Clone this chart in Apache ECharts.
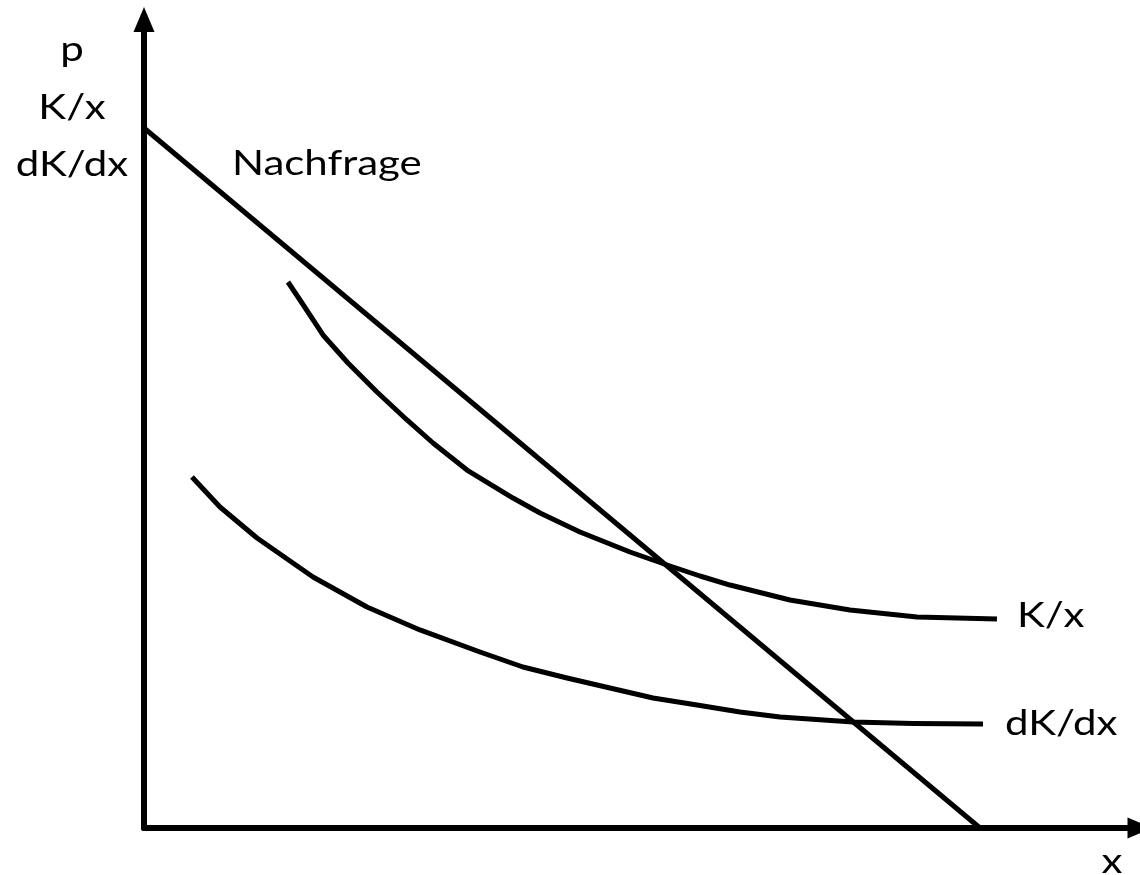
<!DOCTYPE html>
<html>
<head>
<meta charset="utf-8">
<script src="https://cdn.jsdelivr.net/npm/echarts@6/dist/echarts.min.js"></script>
<style>
  html, body { margin: 0; padding: 0; background: #fff; }
  #chart { width: 1140px; height: 875px; }
</style>
</head>
<body>
<div id="chart"></div>
<script>
// Schematic values (quantity x, price/cost units)
const demandX = [0, 100];
const demandY = [100, 0];

const avgCostX = [17.22, 18.90, 21.41, 24.40, 27.87, 31.46, 34.57, 38.64, 44.14, 47.37, 52.15, 58.13, 62.92, 66.51, 70.10, 77.27, 84.45, 92.46, 102.03];
const avgCostY = [78.0, 75.0, 70.43, 66.43, 62.29, 58.29, 55.0, 51.14, 47.14, 45.0, 42.29, 39.43, 37.43, 36.0, 34.71, 32.57, 31.14, 30.14, 29.86];

const margCostX = [5.74, 9.09, 13.52, 20.22, 26.67, 33.01, 40.19, 45.33, 50.60, 55.74, 60.89, 66.15, 71.29, 76.08, 84.81, 91.99, 100.36];
const margCostY = [50.14, 45.86, 41.43, 35.86, 31.57, 28.29, 25.14, 23.0, 21.43, 20.0, 18.57, 17.57, 16.57, 15.86, 15.14, 14.93, 14.86];

const yAxisLabels = ['p', 'K/x', 'dK/dx'];
const xAxisLabel = 'x';
const demandLabel = 'Nachfrage';
const avgCostLabel = 'K/x';
const margCostLabel = 'dK/dx';

const zip = (xs, ys) => xs.map((x, i) => [x, ys[i]]);

const FONT = 'Lato';
const FS = 35;
const SX = 1.2;
function label(text, x, y, align) {
  return {
    type: 'text', x: x, y: y, scaleX: SX, scaleY: 1,
    style: { text: text, fontFamily: FONT, fontSize: FS, fill: '#000',
             align: align || 'left', verticalAlign: 'middle' },
    z: 100
  };
}

const chart = echarts.init(document.getElementById('chart'));
const lineStyle = { color: '#000', width: 5, join: 'round', cap: 'butt' };
chart.setOption({
  animation: false,
  backgroundColor: '#fff',
  grid: { left: 144, width: 996, top: 19.5, bottom: 47 },
  xAxis: {
    type: 'value', min: 0, max: 119.14,
    splitLine: { show: false }, axisTick: { show: false }, axisLabel: { show: false },
    axisLine: { show: true, onZero: false, symbol: ['none', 'triangle'], symbolSize: [21, 25],
                lineStyle: { color: '#000', width: 6 } }
  },
  yAxis: {
    type: 'value', min: 0, max: 115.5,
    splitLine: { show: false }, axisTick: { show: false }, axisLabel: { show: false },
    axisLine: { show: true, onZero: false, symbol: ['none', 'triangle'], symbolSize: [21, 25],
                lineStyle: { color: '#000', width: 6 } }
  },
  series: [
    { type: 'line', data: zip(demandX, demandY), symbol: 'none', lineStyle: lineStyle },
    { type: 'line', data: zip(avgCostX, avgCostY), symbol: 'none', smooth: false, lineStyle: lineStyle },
    { type: 'line', data: zip(margCostX, margCostY), symbol: 'none', smooth: false, lineStyle: lineStyle }
  ],
  graphic: [
    label(yAxisLabels[0], 72, 50, 'center'),
    label(yAxisLabels[1], 72, 108, 'center'),
    label(yAxisLabels[2], 72, 165, 'center'),
    label(demandLabel, 232, 164, 'left'),
    label(avgCostLabel, 1017, 616, 'left'),
    label(margCostLabel, 1005, 724, 'left'),
    label(xAxisLabel, 1112, 862, 'center')
  ]
});
</script>
</body>
</html>
